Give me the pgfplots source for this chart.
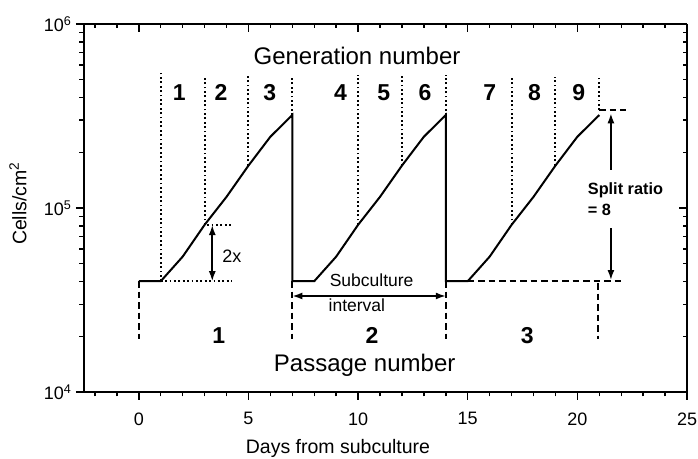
\documentclass[border=0pt]{standalone}
\usepackage{fontspec}
\setmainfont{Liberation Sans}
\usepackage{pgfplots}
\pgfplotsset{compat=1.18}
\usetikzlibrary{arrows.meta}
\newcommand{\bigfnt}{\fontsize{24}{28}\selectfont}
\newcommand{\numfnt}{\fontsize{23}{27}\selectfont\bfseries}
\newcommand{\midfnt}{\fontsize{18}{21}\selectfont}
\pgfplotsset{
  myax/.style={
    width=603pt, height=368pt, scale only axis,
    xmin=-2.5, xmax=25, ymin=1e4, ymax=1e6,
    xtick={0,5,...,25}, minor xtick={-2,...,25},
    ytick={1e4,1e5,1e6},
    major tick length=8pt, minor tick length=4.5pt,
    every tick/.style={black, line width=1.4pt},
    axis line style={-, line width=1.7pt},
    /pgf/number format/assume math mode=true,
  }
}
\begin{document}
\begin{tikzpicture}
\begin{semilogyaxis}[myax, axis x line*=top, axis y line*=right, tick align=inside,
  xticklabels={}, yticklabels={}]
\end{semilogyaxis}
\begin{semilogyaxis}[myax, axis x line*=bottom, axis y line*=left, tick align=outside,
  clip=false,
  yticklabels={10\textsuperscript{4},10\textsuperscript{5},10\textsuperscript{6}},
  ticklabel style={font=\fontsize{18}{21}\selectfont},
  xticklabel style={yshift=-9pt},
  yticklabel style={xshift=-1pt},
  xlabel={Days from subculture},
  ylabel={Cells/cm\textsuperscript{2}},
  label style={font=\fontsize{19.5}{23}\selectfont},
  xlabel style={at={(axis description cs:0.4212,-0.168)}, anchor=base},
  ylabel style={at={(axis description cs:-0.1095,0.512)}, anchor=center},
]
% growth curve
\addplot[black, line width=2pt] coordinates {
(0,40000)(1,40000)(2,54400)(3,81000)(4,115000)(5,170000)(6,244000)(7,320000)
(7,40000)(8,40000)(9,54400)(10,81000)(11,115000)(12,170000)(13,244000)(14,320000)
(14,40000)(15,40000)(16,54400)(17,81000)(18,115000)(19,170000)(20,244000)(21,320000)};
% generation boundaries (dotted)
\pgfplotsset{dotline/.style={black, line width=2pt, dash pattern=on 1.8pt off 2.6pt}}
\addplot[dotline] coordinates {(1,40000)(1,540000)};
\addplot[dotline] coordinates {(3,81000)(3,510000)};
\addplot[dotline] coordinates {(5,170000)(5,520000)};
\addplot[dotline] coordinates {(7,320000)(7,520000)};
\addplot[dotline] coordinates {(10,81000)(10,527000)};
\addplot[dotline] coordinates {(12,170000)(12,540000)};
\addplot[dotline] coordinates {(14,320000)(14,527000)};
\addplot[dotline] coordinates {(17,81000)(17,510000)};
\addplot[dotline] coordinates {(19,170000)(19,515000)};
\addplot[dotline] coordinates {(21,340000)(21,515000)};
\addplot[dotline] coordinates {(1,40000)(4.26,40000)};
\addplot[dotline] coordinates {(3.12,80800)(4.26,80800)};
% passage boundaries (dashed)
\pgfplotsset{dashline/.style={black, line width=1.8pt, dash pattern=on 6.5pt off 4pt}}
\addplot[dashline] coordinates {(0,40000)(0,19500)};
\addplot[dashline] coordinates {(7,40000)(7,19500)};
\addplot[dashline] coordinates {(14,40000)(14,19500)};
\addplot[dashline] coordinates {(20.95,39000)(20.95,19500)};
\addplot[dashline] coordinates {(15,40000)(22,40000)};
\addplot[dashline] coordinates {(21,340000)(22.2,340000)};
% arrows
\addplot[black, line width=1.7pt, {Latex[length=10pt,width=7pt]}-{Latex[length=10pt,width=7pt]}] coordinates {(3.35,40000)(3.35,80800)};
\addplot[black, line width=1.7pt, {Latex[length=10pt,width=7pt]}-{Latex[length=10pt,width=7pt]}] coordinates {(7,33250)(14,33250)};
\addplot[black, line width=1.7pt, -{Latex[length=10pt,width=7pt]}] coordinates {(21.53,161000)(21.53,327000)};
\addplot[black, line width=1.7pt, -{Latex[length=10pt,width=7pt]}] coordinates {(21.53,77600)(21.53,40600)};
% texts
\node[font=\bigfnt, anchor=base] at (axis cs:9.95,606000) {Generation number};
\node[font=\bigfnt, anchor=base] at (axis cs:10.3,12900) {Passage number};
\node[font=\numfnt, anchor=base] at (axis cs:1.85,386000) {1};
\node[font=\numfnt, anchor=base] at (axis cs:3.75,386000) {2};
\node[font=\numfnt, anchor=base] at (axis cs:5.97,386000) {3};
\node[font=\numfnt, anchor=base] at (axis cs:9.2,386000) {4};
\node[font=\numfnt, anchor=base] at (axis cs:11.17,386000) {5};
\node[font=\numfnt, anchor=base] at (axis cs:13.05,386000) {6};
\node[font=\numfnt, anchor=base] at (axis cs:16.0,386000) {7};
\node[font=\numfnt, anchor=base] at (axis cs:18.05,386000) {8};
\node[font=\numfnt, anchor=base] at (axis cs:20.06,386000) {9};
\node[font=\numfnt, anchor=base] at (axis cs:3.65,18380) {1};
\node[font=\numfnt, anchor=base] at (axis cs:10.64,18380) {2};
\node[font=\numfnt, anchor=base] at (axis cs:17.72,18380) {3};
\node[font=\midfnt, anchor=base west, inner sep=0pt] at (axis cs:3.8,50400) {2x};
\node[font=\fontsize{17.5}{20}\selectfont, anchor=base west, inner sep=0pt] at (axis cs:8.7,37350) {Subculture};
\node[font=\fontsize{17.5}{20}\selectfont, anchor=base west, inner sep=0pt] at (axis cs:8.65,27300) {interval};
\node[font=\fontsize{16.3}{19}\selectfont\bfseries, anchor=base west, inner sep=0pt] at (axis cs:20.47,118700) {Split ratio};
\node[font=\fontsize{16.3}{19}\selectfont\bfseries, anchor=base west, inner sep=0pt] at (axis cs:20.47,91600) {= 8};
\end{semilogyaxis}
\pgfresetboundingbox
\path[use as bounding box] ([shift={(-84pt,-66pt)}]current axis.south west) rectangle ([shift={(11pt,24pt)}]current axis.north east);
\end{tikzpicture}
\end{document}
